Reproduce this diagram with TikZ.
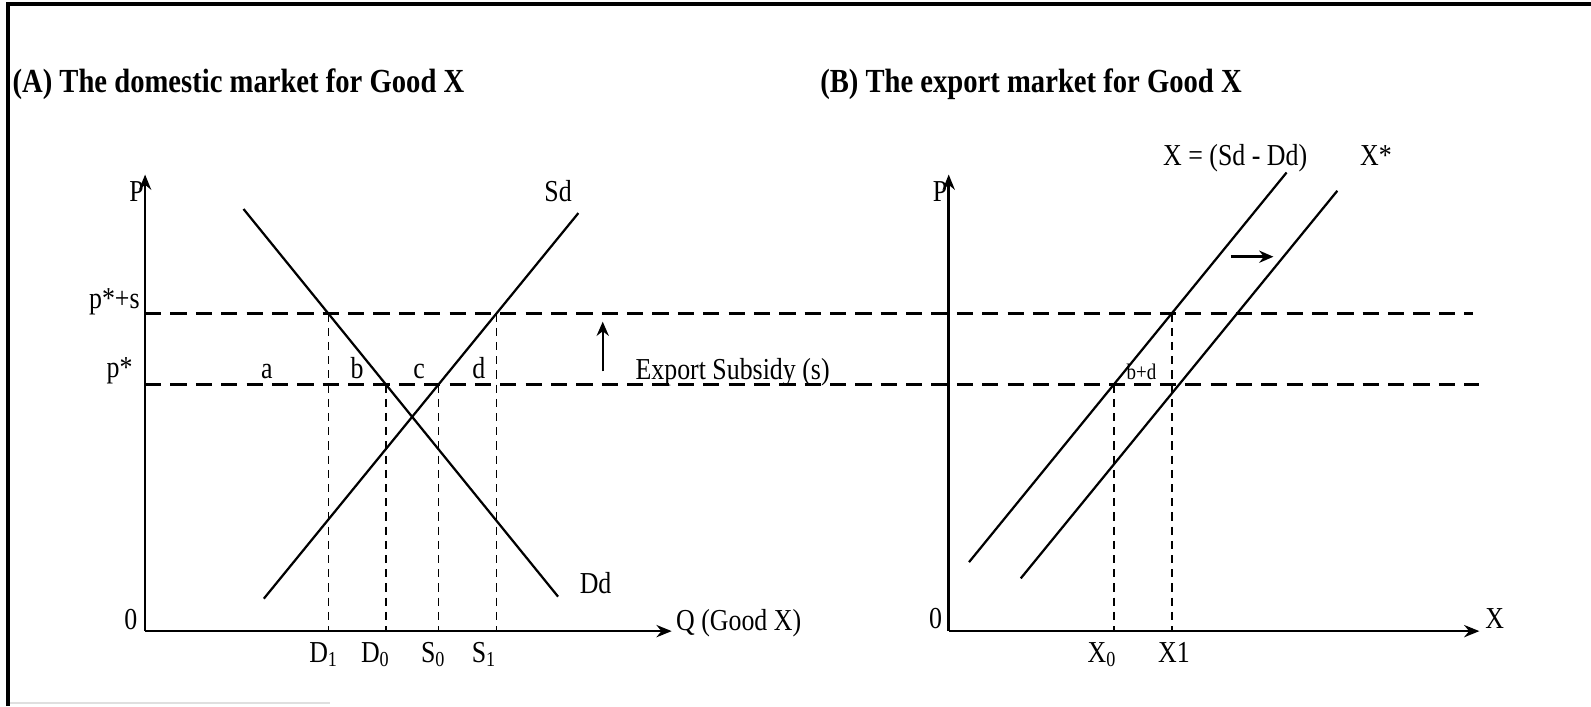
\documentclass[tikz,border=0pt]{standalone}
\usepackage{fontspec}
\setmainfont{Liberation Serif}[FakeStretch=0.85]
\usetikzlibrary{arrows.meta,calc}

\begin{document}
\begin{tikzpicture}[x=0.5pt,y=-0.5pt,font=\fontsize{15}{17}\selectfont,
    axis/.style={line width=1.3pt,-{Stealth[length=7.5pt,width=6pt]}},
    curve/.style={line width=1.1pt},
    pline/.style={line width=1.1pt,dash pattern=on 8pt off 4.5pt},
    qline/.style={line width=0.7pt,dash pattern=on 4pt off 3pt},
    shift arrow/.style={line width=1.2pt,-{Stealth[length=7pt,width=6pt]}},
    lbl/.style={inner sep=0pt,anchor=base},
    ttl/.style={inner sep=0pt,anchor=base west,font=\fontsize{16.6}{19}\selectfont\bfseries}]
  \useasboundingbox (0,0) rectangle (1568,696);
  % frame
  \draw[line width=2pt] (8,696) -- (8,4) -- (1568,4);
  \draw[gray!25,line width=0.8pt] (10,693) -- (325,693);
  \node[ttl] (ttlA) at (12,91) {(A) The domestic market for Good X};
  \node[ttl] (ttlB) at (808,91) {(B) The export market for Good X};

  % price lines, across both panels
  \coordinate (hiL) at (143,309); \coordinate (hiR) at (1452,309);
  \coordinate (loL) at (143,379); \coordinate (loR) at (1458,379);
  \draw[pline] (hiL) -- (hiR);
  \draw[pline] (loL) -- (loR);

  % (A) domestic market
  \coordinate (oA) at (143,622);
  \coordinate (pA) at (143,172);
  \coordinate (qA) at (662,622);
  \coordinate (dTop) at (240,206); \coordinate (dBot) at (550,588);
  \coordinate (sBot) at (260,590); \coordinate (sTop) at (570,210);
  \draw[curve] (dTop) -- (dBot);
  \draw[curve] (sBot) -- (sTop);
  \coordinate (D1) at (intersection of dTop--dBot and hiL--hiR);
  \coordinate (D0) at (intersection of dTop--dBot and loL--loR);
  \coordinate (S0) at (intersection of sBot--sTop and loL--loR);
  \coordinate (S1) at (intersection of sBot--sTop and hiL--hiR);
  \foreach \q in {D1,D0,S0,S1}
    \draw[qline] (\q) -- (\q |- oA);
  \draw[axis] (oA) -- (pA);
  \draw[axis] (oA) -- (qA);

  \node[lbl,anchor=base east] (lPA) at (142,199) {P};
  \node[lbl] (l0A) at (129,620) {0};
  \node[lbl,anchor=base east] (lps) at (138,304) {p*+s};
  \node[lbl,anchor=base east] (lp) at (131,372) {p*};
  \node[lbl] (la) at (263,373) {a};
  \node[lbl] (lb) at (352,373) {b};
  \node[lbl] (lc) at (413,373) {c};
  \node[lbl] (ld) at (472,373) {d};
  \node[lbl] (lSd) at (550,199) {Sd};
  \node[lbl] (lDd) at (587,585) {Dd};
  \node[lbl,anchor=base west] (lQ) at (666,621) {Q (Good X)};
  \node[lbl] (lD1) at (319,653) {D\textsubscript{1}};
  \node[lbl] (lD0) at (370,653) {D\textsubscript{0}};
  \node[lbl] (lS0) at (427,653) {S\textsubscript{0}};
  \node[lbl] (lS1) at (477,653) {S\textsubscript{1}};

  % subsidy
  \coordinate (upA) at (594,366); \coordinate (upB) at (594,317);
  \draw[shift arrow] (upA) -- (upB);
  \node[lbl,anchor=base west] (lsub) at (626,374) {Export Subsidy (s)};

  % (B) export market
  \coordinate (oB) at (935,622);
  \coordinate (pB) at (935,172);
  \coordinate (xB) at (1458,622);
  \coordinate (xTop) at (1268,170); \coordinate (xBot) at (955,554);
  \coordinate (sxTop) at (1318,188); \coordinate (sxBot) at (1006,570);
  \draw[curve] (xBot) -- (xTop);
  \draw[curve] (sxBot) -- (sxTop);
  \coordinate (X0) at (intersection of xBot--xTop and loL--loR);
  \coordinate (X1) at (intersection of xBot--xTop and hiL--hiR);
  \draw[qline] (X0) -- (X0 |- oB);
  \draw[qline] (X1) -- (X1 |- oB);
  \draw[axis] (oB) -- (pB);
  \draw[axis] (oB) -- (xB);
  \coordinate (rA) at (1213,253); \coordinate (rB) at (1255,253);
  \draw[shift arrow] (rA) -- (rB);

  \node[lbl,anchor=base east] (lPB) at (934,199) {P};
  \node[lbl] (l0B) at (922,619) {0};
  \node[lbl] (lX) at (1473,619) {X};
  \node[lbl,anchor=base west] (lXl) at (1146,163) {X = (Sd - Dd)};
  \node[lbl,anchor=base west] (lXs) at (1340,163) {X*};
  \node[lbl,font=\fontsize{11}{13}\selectfont] (lbd) at (1125,374) {b+d};
  \node[lbl] (lX0) at (1086,653) {X\textsubscript{0}};
  \node[lbl] (lX1) at (1157,653) {X1};
\end{tikzpicture}
\end{document}
